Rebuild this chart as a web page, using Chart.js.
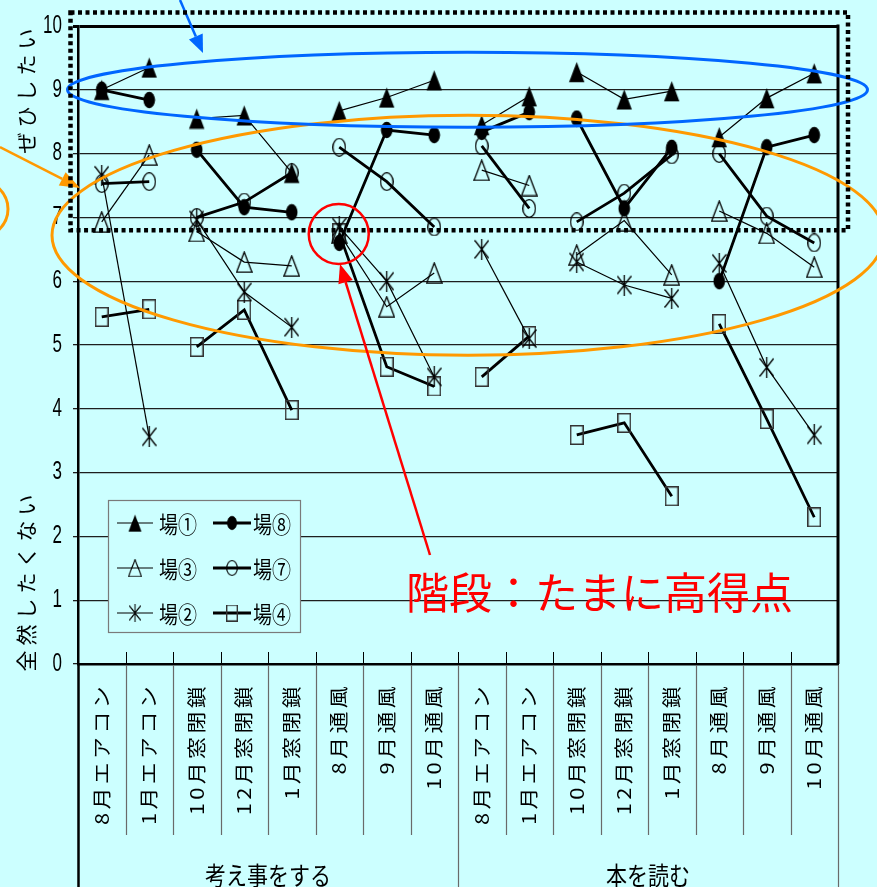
<!DOCTYPE html>
<html lang="ja">
<head>
<meta charset="utf-8">
<title>場の評価</title>
<script src="https://cdn.jsdelivr.net/npm/chart.js@4.4.1/dist/chart.umd.min.js"></script>
<style>
  html, body { margin: 0; padding: 0; background: #ccffff; }
  #wrap { position: relative; width: 877px; height: 887px; }
</style>
</head>
<body>
<div id="wrap"><canvas id="c"></canvas></div>
<script>
// ---- categories ----
const activities = ['考え事をする', '本を読む'];
const conditions = ['8月エアコン', '1月エアコン', '10月窓閉鎖', '12月窓閉鎖', '1月窓閉鎖', '8月通風', '9月通風', '10月通風'];

// ---- value axis ----
const yMin = 0, yMax = 10, yStep = 1;
const yTitleHigh = 'ぜひしたい';
const yTitleLow = '全然したくない';

// ---- series (one value per condition, 考え事をする then 本を読む) ----
const seriesNames = ['場①', '場⑧', '場③', '場⑦', '場②', '場④'];
const ba1 = [9.0, 9.35, 8.55, 8.6, 7.7, 8.67, 8.88, 9.15, 8.45, 8.9, 9.28, 8.85, 8.98, 8.26, 8.87, 9.26];
const ba8 = [9.0, 8.84, 8.06, 7.16, 7.08, 6.6, 8.37, 8.29, 8.34, 8.65, 8.55, 7.14, 8.09, 6.0, 8.1, 8.29];
const ba3 = [6.93, 7.98, 6.78, 6.3, 6.24, 6.75, 5.6, 6.13, 7.74, 7.5, 6.41, 6.95, 6.1, 7.1, 6.75, 6.22];
const ba7 = [7.53, 7.56, 7.0, 7.24, 7.7, 8.1, 7.56, 6.85, 8.12, 7.14, 6.93, 7.38, 7.98, 8.0, 7.02, 6.6];
const ba2 = [7.66, 3.56, 6.96, 5.83, 5.28, 6.85, 6.0, 4.5, 6.5, 5.1, 6.3, 5.94, 5.73, 6.28, 4.65, 3.59];
const ba4 = [5.44, 5.56, 4.97, 5.55, 3.98, 6.75, 4.66, 4.35, 4.5, 5.14, 3.59, 3.78, 2.63, 5.33, 3.84, 2.3];

const noteText = '階段：たまに高得点';

// ---- derived ----
const labels = activities.flatMap(() => conditions);
const groupOf = activities.flatMap(a => conditions.map(() => a));
const kindOf = labels.map(l => l.replace(/^\d+月/, ''));
// a line only joins neighbours of the same condition within the same activity
const joins = i => kindOf[i] === kindOf[i + 1] && groupOf[i] === groupOf[i + 1];

// ---- marker glyphs (drawn taller than wide) ----
function makeMarker(kind) {
  const size = {triFill: [17, 22], triOpen: [17, 22], dotFill: [13, 18], dotOpen: [14, 19], star: [15, 21], square: [14, 20]}[kind];
  const cv = document.createElement('canvas');
  cv.width = size[0]; cv.height = size[1];
  const g = cv.getContext('2d');
  const w = cv.width, h = cv.height;
  g.fillStyle = '#000'; g.strokeStyle = '#000'; g.lineWidth = 1.3;
  if (kind === 'triFill' || kind === 'triOpen') {
    g.beginPath(); g.moveTo(w / 2, 1); g.lineTo(w - 0.8, h - 0.8); g.lineTo(0.8, h - 0.8); g.closePath();
    kind === 'triFill' ? g.fill() : g.stroke();
  } else if (kind === 'dotFill' || kind === 'dotOpen') {
    g.beginPath(); g.ellipse(w / 2, h / 2, w / 2 - 0.7, h / 2 - 0.7, 0, 0, Math.PI * 2);
    kind === 'dotFill' ? g.fill() : g.stroke();
  } else if (kind === 'star') {
    g.beginPath();
    g.moveTo(w / 2, 0); g.lineTo(w / 2, h);
    g.moveTo(0.5, 1.5); g.lineTo(w - 0.5, h - 1.5);
    g.moveTo(w - 0.5, 1.5); g.lineTo(0.5, h - 1.5);
    g.stroke();
  } else {
    g.strokeStyle = '#333'; g.lineWidth = 1.5;
    g.strokeRect(0.75, 0.75, w - 1.5, h - 1.5);
  }
  return cv;
}

const seriesValues = [ba1, ba8, ba3, ba7, ba2, ba4];
const seriesMarker = ['triFill', 'dotFill', 'triOpen', 'dotOpen', 'star', 'square'];
const seriesWidth = [1.2, 2.8, 1.2, 2.8, 1.2, 2.8];

const datasets = seriesNames.map((name, k) => ({
  label: name,
  data: seriesValues[k],
  borderColor: '#000',
  backgroundColor: '#000',
  borderWidth: seriesWidth[k],
  pointStyle: makeMarker(seriesMarker[k]),
  pointRadius: 8,
  tension: 0,
  segment: {
    borderColor: ctx => joins(ctx.p0DataIndex) ? undefined : 'rgba(0,0,0,0)'
  }
}));

// ---- helpers ----
function wrapLabels(scale, prep) {
  if (scale.__wrapped) return;
  const base = scale.drawLabels;
  scale.drawLabels = function (area) {
    const c = this.ctx;
    c.save(); prep(c, this); base.call(this, area); c.restore();
  };
  scale.__wrapped = true;
}

function arrow(c, x0, y0, x1, y1, color, lw, headLen, headW) {
  const a = Math.atan2(y1 - y0, x1 - x0);
  const bx = x1 - headLen * Math.cos(a), by = y1 - headLen * Math.sin(a);
  c.strokeStyle = color; c.fillStyle = color; c.lineWidth = lw;
  c.beginPath(); c.moveTo(x0, y0); c.lineTo(bx, by); c.stroke();
  c.beginPath(); c.moveTo(x1, y1);
  c.lineTo(bx + headW / 2 * Math.sin(a), by - headW / 2 * Math.cos(a));
  c.lineTo(bx - headW / 2 * Math.sin(a), by + headW / 2 * Math.cos(a));
  c.closePath(); c.fill();
}

function stretchedText(c, text, x, y, sy, align) {
  c.save();
  c.translate(x, y); c.scale(1, sy);
  c.textAlign = align; c.textBaseline = 'middle';
  c.fillText(text, 0, 0);
  c.restore();
}

// ---- plugins ----
const backdrop = {
  id: 'backdrop',
  beforeDraw(chart) {
    const c = chart.ctx;
    c.save(); c.fillStyle = '#ccffff'; c.fillRect(0, 0, chart.width, chart.height); c.restore();
    // narrower digits on the value axis, spaced-out category names
    wrapLabels(chart.scales.y, (g, s) => {
      const ax = s.right - 16;
      g.translate(ax, 0); g.scale(0.68, 1); g.translate(-ax, 0);
    });
    wrapLabels(chart.scales.x, (g, s) => {
      const ay = s.top + 19;
      g.translate(0, ay); g.scale(1, 1.15); g.translate(0, -ay);
      g.letterSpacing = '3px';
    });
  }
};

const frame = {
  id: 'frame',
  beforeDatasetsDraw(chart) {
    const c = chart.ctx, A = chart.chartArea;
    c.save();
    // right border of the plot
    c.strokeStyle = '#000'; c.lineWidth = 3;
    c.beginPath(); c.moveTo(A.right, A.top - 1.5); c.lineTo(A.right, A.bottom); c.stroke();
    // inside tick marks at category boundaries
    const n = labels.length, step = (A.right - A.left) / n;
    c.lineWidth = 1;
    c.beginPath();
    for (let k = 1; k < n; k++) {
      const bx = Math.round(A.left + k * step) + 0.5;
      c.moveTo(bx, A.bottom - 12); c.lineTo(bx, A.bottom);
    }
    c.stroke();
    c.restore();
  },
  afterDraw(chart) {
    const c = chart.ctx, A = chart.chartArea;
    const n = labels.length, step = (A.right - A.left) / n;
    c.save();
    // separators between category names and between activities
    for (let k = 0; k <= n; k++) {
      const bx = Math.round(A.left + k * step) + 0.5;
      const full = groupOf[k] !== groupOf[k - 1];
      c.strokeStyle = k === 0 ? '#000' : '#6a6a6a';
      c.lineWidth = k === 0 ? 2.5 : 1.2;
      c.beginPath(); c.moveTo(bx, A.bottom + 1); c.lineTo(bx, full ? chart.height : 835); c.stroke();
    }
    // activity names
    c.fillStyle = '#000';
    c.font = '21px "Noto Sans CJK JP"';
    activities.forEach((a, gi) => {
      const first = gi * conditions.length, last = first + conditions.length - 1;
      const cx = (chart.scales.x.getPixelForValue(first) + chart.scales.x.getPixelForValue(last)) / 2;
      stretchedText(c, a, cx, 875, 1.2, 'center');
    });
    // value-axis captions
    c.font = '21px "Noto Sans CJK JP"';
    c.letterSpacing = '5px';
    [[yTitleHigh, 86], [yTitleLow, 578]].forEach(([t, cy]) => {
      c.save(); c.translate(26, cy + 2.5); c.rotate(-Math.PI / 2);
      c.textAlign = 'center'; c.textBaseline = 'middle';
      c.fillText(t, 0, 0);
      c.restore();
    });
    c.letterSpacing = '0px';
    c.restore();
  }
};

const keyBox = {
  id: 'keyBox',
  afterDraw(chart) {
    const c = chart.ctx;
    const box = {x: 108, y: 500, w: 192, h: 132};
    const rows = [523, 568, 613];
    const cols = [{l0: 117, l1: 153, m: 135, t: 159}, {l0: 213, l1: 251, m: 232, t: 253}];
    c.save();
    c.fillStyle = '#ccffff'; c.fillRect(box.x, box.y, box.w, box.h);
    c.strokeStyle = '#7a7a7a'; c.lineWidth = 1.2;
    c.strokeRect(box.x + 0.5, box.y + 0.5, box.w, box.h);
    chart.data.datasets.forEach((ds, i) => {
      const col = cols[i % 2], cy = rows[Math.floor(i / 2)];
      c.strokeStyle = '#000'; c.lineWidth = ds.borderWidth;
      c.beginPath(); c.moveTo(col.l0, cy); c.lineTo(col.l1, cy); c.stroke();
      const img = ds.pointStyle, s = 0.85;
      c.drawImage(img, col.m - img.width * s / 2, cy - img.height * s / 2, img.width * s, img.height * s);
      c.fillStyle = '#000';
      c.font = '19px "Noto Sans CJK JP"';
      stretchedText(c, ds.label, col.t, cy + 1, 1.22, 'left');
    });
    c.restore();
  }
};

const annotate = {
  id: 'annotate',
  afterDraw(chart) {
    const c = chart.ctx, A = chart.chartArea, xs = chart.scales.x, ys = chart.scales.y;
    c.save();
    // orange: mid band
    c.strokeStyle = '#ff9900'; c.lineWidth = 3;
    c.beginPath(); c.ellipse(468, ys.getPixelForValue(6.72), 416, 120, 0, 0, Math.PI * 2); c.stroke();
    c.beginPath(); c.ellipse(-30, 209, 38, 32, 0, 0, Math.PI * 2); c.stroke();
    arrow(c, 0, 147, 80, 188, '#ff9900', 2.5, 20, 15);
    // blue: top band
    c.strokeStyle = '#0066ff'; c.lineWidth = 3;
    c.beginPath(); c.ellipse(467.5, ys.getPixelForValue(9), 400, 37.5, 0, 0, Math.PI * 2); c.stroke();
    arrow(c, 180, 0, 203, 53, '#0066ff', 2.5, 18, 15);
    // dotted frame round the upper range
    c.strokeStyle = '#000'; c.lineWidth = 4.5; c.setLineDash([4, 3.5]);
    const top = ys.getPixelForValue(10.21), bottom = ys.getPixelForValue(6.8);
    c.strokeRect(A.left - 7.5, top, (A.right + 10) - (A.left - 7.5), bottom - top);
    c.setLineDash([]);
    // red: the 8月通風 cluster
    c.strokeStyle = '#ff0000'; c.lineWidth = 2.5;
    c.beginPath(); c.arc(xs.getPixelForValue(5) - 0.5, ys.getPixelForValue(6.74), 30, 0, Math.PI * 2); c.stroke();
    arrow(c, 430, 555, 340, 264, '#ff0000', 2.5, 19, 15);
    c.fillStyle = '#ff0000';
    c.font = '43px "Noto Sans CJK JP"';
    c.textAlign = 'left'; c.textBaseline = 'middle';
    c.fillText(noteText, 406, 593);
    c.restore();
  }
};

new Chart(document.getElementById('c'), {
  type: 'line',
  data: {labels, datasets},
  options: {
    responsive: true,
    maintainAspectRatio: false,
    devicePixelRatio: 1,
    animation: false,
    layout: {padding: {top: 26, right: 39, left: 0, bottom: 0}},
    plugins: {legend: {display: false}, tooltip: {enabled: false}},
    scales: {
      x: {
        type: 'category',
        offset: true,
        grid: {display: true, drawOnChartArea: false, drawTicks: false, color: 'rgba(0,0,0,0)'},
        border: {color: '#000', width: 2.5},
        ticks: {
          autoSkip: false, maxRotation: 90, minRotation: 90, padding: 19, color: '#000',
          font: {family: '"Noto Sans CJK JP"', size: 19}
        },
        afterFit: s => { s.height = 223; }
      },
      y: {
        min: yMin, max: yMax,
        grid: {
          color: ctx => (ctx.tick && ctx.tick.value === yMax) ? '#000' : '#1e1e1e',
          lineWidth: ctx => (ctx.tick && ctx.tick.value === yMax) ? 3 : 1.3,
          tickLength: 5
        },
        border: {color: '#000', width: 2.5},
        ticks: {
          stepSize: yStep, padding: 11, color: '#000',
          font: {family: '"Liberation Sans", Arial, sans-serif', size: 25}
        },
        afterFit: s => { s.width = 78; }
      }
    }
  },
  plugins: [backdrop, frame, keyBox, annotate]
});
</script>
</body>
</html>
